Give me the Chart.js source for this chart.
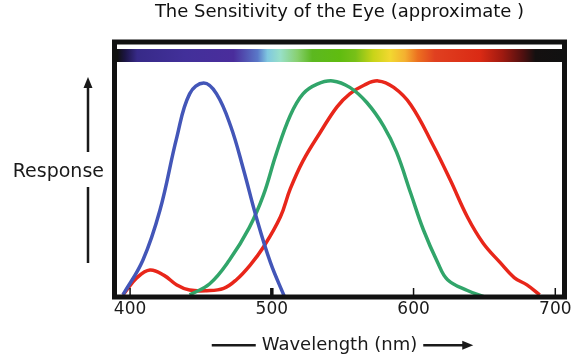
<!DOCTYPE html>
<html>
<head>
<meta charset="utf-8">
<script src="https://cdn.jsdelivr.net/npm/chart.js@4.4.1/dist/chart.umd.min.js"></script>
<style>
  html, body { margin: 0; padding: 0; background: #fff; }
  canvas { display: block; }
</style>
</head>
<body>
<canvas id="chart" width="574" height="358"></canvas>
<script>
// values (wavelength in nm, relative response)
const blueNm = [395, 409, 421, 433, 442, 452, 461, 471, 480, 489, 499, 509];
const blueResp = [0.01, 0.17, 0.40, 0.74, 0.94, 0.99, 0.94, 0.79, 0.59, 0.37, 0.16, 0.0];

const greenNm = [442, 456, 470, 484, 494, 503, 513, 522, 532, 543, 555, 567, 579, 588, 598, 607, 617, 624, 638, 650];
const greenResp = [0.01, 0.06, 0.17, 0.32, 0.47, 0.66, 0.84, 0.94, 0.985, 1.0, 0.97, 0.90, 0.79, 0.67, 0.48, 0.31, 0.16, 0.08, 0.03, 0.0];

const redNm = [395, 405, 414, 424, 433, 442, 454, 466, 475, 485, 494, 506, 513, 522, 534, 546, 555, 565, 575, 586, 598, 614, 626, 638, 649, 661, 671, 680, 689];
const redResp = [0.01, 0.09, 0.125, 0.10, 0.056, 0.032, 0.029, 0.04, 0.08, 0.15, 0.23, 0.37, 0.50, 0.63, 0.76, 0.88, 0.94, 0.98, 1.0, 0.97, 0.89, 0.70, 0.54, 0.37, 0.25, 0.16, 0.09, 0.056, 0.01];

const tickValues = [400, 500, 600, 700];

// colour band across the top, stops by wavelength
const spectrumNm = [391, 396.5, 405, 439, 473, 490, 497, 506, 518, 528.5, 548, 559, 571.5, 583.5, 594, 603, 615, 647, 662.5, 677, 686, 705];
const spectrumColors = ['#111111', '#1c1545', '#372a88', '#42309a', '#4a2d9c', '#5a78c8', '#80c8e0', '#98e0c8', '#88d070', '#5cb820', '#60bc10', '#78c018', '#c8d418', '#f2d830', '#f4b030', '#ec7020', '#e04020', '#da2a14', '#a01a10', '#501010', '#141010', '#111111'];

const FONT = 'DejaVu Sans';

function toPoints(xs, ys) {
    return xs.map((v, i) => ({ x: v, y: ys[i] }));
}

function drawArrowHead(ctx, x, y, dir) {
    // dir: 'up' or 'right'
    ctx.beginPath();
    if (dir === 'up') {
        ctx.moveTo(x, y);
        ctx.lineTo(x - 4.5, y + 11);
        ctx.lineTo(x + 4.5, y + 11);
    } else {
        ctx.moveTo(x, y);
        ctx.lineTo(x - 11, y - 4.5);
        ctx.lineTo(x - 11, y + 4.5);
    }
    ctx.closePath();
    ctx.fill();
}

const decorPlugin = {
    id: 'decor',
    beforeDatasetsDraw(chart) {
        const { ctx, chartArea: a, scales: { x } } = chart;
        const x0 = a.left + 2.5, x1 = a.right - 2.5;
        const grad = ctx.createLinearGradient(x0, 0, x1, 0);
        spectrumNm.forEach((nm, i) => {
            let p = (x.getPixelForValue(nm) - x0) / (x1 - x0);
            grad.addColorStop(Math.min(1, Math.max(0, p)), spectrumColors[i]);
        });
        ctx.save();
        ctx.fillStyle = grad;
        ctx.fillRect(x0, a.top + 7, x1 - x0, 13);
        ctx.restore();
    },
    afterDatasetsDraw(chart) {
        const { ctx, chartArea: a, scales: { x } } = chart;
        ctx.save();
        // thick frame
        ctx.strokeStyle = '#111';
        ctx.lineWidth = 5;
        ctx.strokeRect(a.left, a.top, a.right - a.left, a.bottom - a.top);
        // small inward tick marks
        x.ticks.forEach(t => {
            const px = x.getPixelForValue(t.value);
            ctx.lineWidth = t.value === 500 ? 3.5 : 1.5;
            ctx.beginPath();
            ctx.moveTo(px, a.bottom - 2);
            ctx.lineTo(px, a.bottom - 9);
            ctx.stroke();
        });
        ctx.restore();
    },
    afterDraw(chart) {
        const { ctx, chartArea: a, scales: { x } } = chart;
        ctx.save();
        ctx.fillStyle = '#1a1a1a';
        ctx.strokeStyle = '#1a1a1a';
        ctx.lineWidth = 2.5;

        // "Response" with arrows above and below
        ctx.font = '19px ' + FONT;
        ctx.textAlign = 'right';
        ctx.textBaseline = 'middle';
        ctx.fillText('Response', 104, 172);
        ctx.beginPath();
        ctx.moveTo(88, 152);
        ctx.lineTo(88, 84);
        ctx.moveTo(88, 187);
        ctx.lineTo(88, 263);
        ctx.stroke();
        drawArrowHead(ctx, 88, 77, 'up');

        // lines either side of the axis title
        ctx.font = '18px ' + FONT;
        const w = ctx.measureText('Wavelength (nm)').width;
        const cx = (a.left + a.right) / 2;
        const ty = x.bottom - 18 * 1.2 / 2 - 2;
        ctx.beginPath();
        ctx.moveTo(cx - w / 2 - 50, ty);
        ctx.lineTo(cx - w / 2 - 6, ty);
        ctx.moveTo(cx + w / 2 + 6, ty);
        ctx.lineTo(cx + w / 2 + 46, ty);
        ctx.stroke();
        drawArrowHead(ctx, cx + w / 2 + 56, ty, 'right');
        ctx.restore();
    }
};

const lineStyle = {
    borderWidth: 3.5,
    pointRadius: 0,
    fill: false,
    tension: 0.4
};

const chart = new Chart(document.getElementById('chart'), {
    type: 'line',
    data: {
        datasets: [
            { label: 'S', data: toPoints(blueNm, blueResp), borderColor: '#4356b8', ...lineStyle },
            { label: 'M', data: toPoints(greenNm, greenResp), borderColor: '#31a56a', ...lineStyle },
            { label: 'L', data: toPoints(redNm, redResp), borderColor: '#e8261a', ...lineStyle }
        ]
    },
    options: {
        responsive: false,
        animation: false,
        devicePixelRatio: 1,
        layout: {
            padding: { left: 114.5, right: 9.5, top: 0, bottom: 0 }
        },
        scales: {
            x: {
                type: 'linear',
                min: 389,
                max: 706.5,
                afterBuildTicks: (scale) => {
                    scale.ticks = tickValues.map(v => ({ value: v }));
                },
                afterFit: (scale) => {
                    scale.height = 61;
                },
                grid: { display: false, drawTicks: false },
                border: { display: false },
                ticks: {
                    padding: 2,
                    color: '#1a1a1a',
                    font: { family: FONT, size: 17 }
                },
                title: {
                    display: true,
                    text: 'Wavelength (nm)',
                    color: '#1a1a1a',
                    font: { family: FONT, size: 18 },
                    padding: { top: 0, bottom: 2 }
                }
            },
            y: {
                display: false,
                min: 0,
                max: 1.18
            }
        },
        plugins: {
            legend: { display: false },
            tooltip: { enabled: false },
            title: {
                display: true,
                text: 'The Sensitivity of the Eye (approximate )',
                color: '#111',
                font: { family: FONT, size: 18, weight: 'normal' },
                padding: { top: 2, bottom: 18.4 }
            }
        }
    },
    plugins: [decorPlugin]
});
</script>
</body>
</html>
